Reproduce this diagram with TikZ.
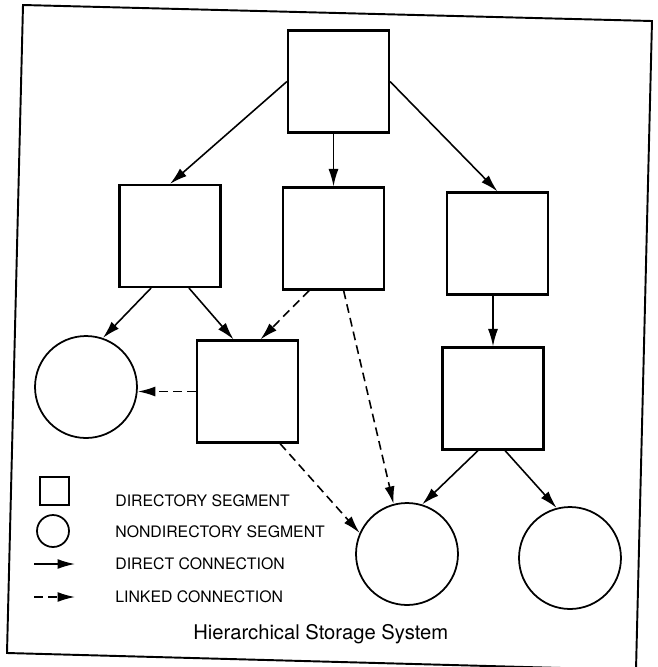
\documentclass[tikz,border=0pt]{standalone}
\usepackage{fontspec}
\setmainfont{TeX Gyre Heros}
\usetikzlibrary{arrows.meta, positioning}

\tikzset{
  dirseg/.style={draw, line width=1.2pt, minimum width=2.02cm, minimum height=2.04cm, inner sep=0pt},
  nondirseg/.style={draw, circle, line width=1pt, minimum size=2.04cm, inner sep=0pt},
  direct/.style={-{Latex[length=3.5mm, width=2mm]}, line width=0.9pt},
  linked/.style={direct, dash pattern=on 5pt off 3pt},
  legendtext/.style={anchor=west, inner sep=0pt, font=\fontsize{9}{10}\selectfont},
}

\begin{document}
\begin{tikzpicture}[x=0.02cm, y=-0.02cm]
    \useasboundingbox (0,0) rectangle (657,667);
    \clip (0,0) rectangle (657,667);
    % Frame (scanned, slightly tilted)
    \draw[line width=1.1pt] (23,5) -- (652,21) -- (636,670) -- (7,653) -- cycle;

    % Directory segments
    \node[dirseg] (root) at (338.5,81.5) {};
    \node[dirseg] (dirA) at (170,236) {};
    \node[dirseg] (dirB) at (333.5,238.5) {};
    \node[dirseg] (dirC) at (497.5,243.5) {};
    \node[dirseg] (dirD) at (247.5,391.5) {};
    \node[dirseg] (dirE) at (493,398.5) {};

    % Nondirectory segments
    \node[nondirseg] (circA) at (86,387) {};
    \node[nondirseg] (circB) at (407,554) {};
    \node[nondirseg] (circC) at (570,558) {};

    % Direct connections
    \draw[direct] (root.west) -- (dirA.north);
    \draw[direct] (dirB.north |- root.south) -- (dirB.north);
    \draw[direct] (root.east) -- (dirC.north);
    \draw[direct] (dirA.250) -- (circA.71);
    \draw[direct] (dirA.290) -- (dirD.105);
    \draw[direct] (dirE.north |- dirC.south) -- (dirE.north);
    \draw[direct] (dirE.254) -- (circB.73);
    \draw[direct] (dirE.283) -- (circC.105);

    % Linked connections
    \draw[linked] (dirB.245) -- (dirD.76);
    \draw[linked] (dirB.281) -- (circB.105);
    \draw[linked] (dirD.west) -- (dirD.west -| circA.east);
    \draw[linked] (dirD.302) -- (circB.156);

    % Legend
    \node[draw, line width=1pt, minimum width=0.58cm, minimum height=0.56cm, inner sep=0pt] (keysq) at (54.5,491) {};
    \node[draw, circle, line width=1pt, minimum size=0.64cm, inner sep=0pt] (keyci) at (53,531) {};
    \coordinate (keyd1) at (34,564);
    \coordinate (keyd2) at (75,564);
    \coordinate (keyl1) at (34,597);
    \coordinate (keyl2) at (75,597);
    \draw[direct] (keyd1) -- (keyd2);
    \draw[linked] (keyl1) -- (keyl2);
    \node[legendtext] (txtsq) at (115,501) {DIRECTORY SEGMENT};
    \node[legendtext] (txtci) at (115,532) {NONDIRECTORY SEGMENT};
    \node[legendtext] (txtd) at (115,564) {DIRECT CONNECTION};
    \node[legendtext] (txtl) at (115,597) {LINKED CONNECTION};

    % Caption
    \node[anchor=base west, inner sep=0pt, font=\fontsize{11.5}{13}\selectfont] (caption) at (193,639) {Hierarchical Storage System};
\end{tikzpicture}
\end{document}
